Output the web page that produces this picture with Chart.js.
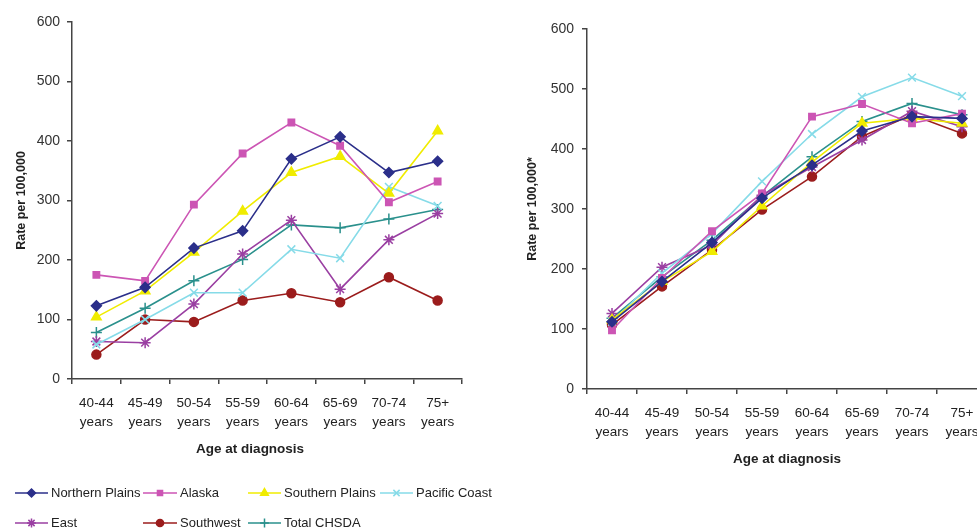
<!DOCTYPE html>
<html>
<head>
<meta charset="utf-8">
<script src="https://cdn.jsdelivr.net/npm/chart.js@4/dist/chart.umd.min.js"></script>
<style>
  html, body { margin: 0; padding: 0; background: #fff; width: 977px; height: 528px; overflow: hidden; }
  #left { position: absolute; left: 0; top: 0; width: 560px; height: 528px; }
  #right { position: absolute; left: 500px; top: 0; width: 500px; height: 528px; }
</style>
</head>
<body>
<div id="left"><canvas id="c1"></canvas></div>
<div id="right"><canvas id="c2"></canvas></div>
<script>
// ---- data ----
const categories = [['40-44','years'],['45-49','years'],['50-54','years'],['55-59','years'],['60-64','years'],['65-69','years'],['70-74','years'],['75+','years']];
const seriesNames = ['Northern Plains','Alaska','Southern Plains','Pacific Coast','East','Southwest','Total CHSDA'];
const yTicks = [0,100,200,300,400,500,600];

// Left panel
const northernPlainsA = [123,154,220,249,370,407,347,366];
const alaskaA         = [175,165,293,379,431,392,297,332];
const southernPlainsA = [104,148,213,282,347,374,312,417];
const pacificCoastA   = [58,100,145,145,218,203,323,291];
const eastA           = [63,61,126,210,267,151,234,278];
const southwestA      = [41,100,96,132,144,129,171,132];
const totalA          = [78,119,165,201,259,254,269,285];

// Right panel
const northernPlainsB = [112,179,244,318,373,430,454,451];
const alaskaB         = [98,185,263,326,454,475,443,459];
const southernPlainsB = [115,179,229,305,378,443,451,443];
const pacificCoastB   = [112,193,259,346,425,487,519,488];
const eastB           = [126,203,240,323,370,415,463,437];
const southwestB      = [107,171,232,299,354,421,457,426];
const totalB          = [118,187,248,321,387,446,476,457];

// ---- styles ----
const styles = [
  {color:'#2b2f8a', pointStyle:'rectRot', radius:5},
  {color:'#cc55b4', pointStyle:'rect', radius:4.5},
  {color:'#f0ec00', pointStyle:'triangle', radius:5.5},
  {color:'#86dbe8', pointStyle:'crossRot', radius:5.5},
  {color:'#9a3fa2', pointStyle:'star', radius:5.5},
  {color:'#9b1c1c', pointStyle:'circle', radius:4.5},
  {color:'#2a908c', pointStyle:'cross', radius:5.5}
];

function makeDatasets(arrs) {
  return arrs.map((d, i) => ({
    label: seriesNames[i],
    data: d,
    borderColor: styles[i].color,
    backgroundColor: styles[i].color,
    pointBackgroundColor: styles[i].color,
    pointBorderColor: styles[i].color,
    pointStyle: styles[i].pointStyle,
    pointRadius: styles[i].radius,
    pointBorderWidth: 1.5,
    borderWidth: 1.6,
    tension: 0,
    fill: false
  }));
}

const legendCols = [{x1:15,x2:48},{x1:143,x2:177},{x1:248,x2:281},{x1:380,x2:413}];
const legendRows = [493, 523];

const legendPlugin = {
  id: 'customLegend',
  afterDraw(chart) {
    const ctx = chart.ctx;
    ctx.save();
    chart.data.datasets.forEach((ds, i) => {
      const row = Math.floor(i / 4), col = i % 4;
      const c = legendCols[col], y = legendRows[row];
      ctx.strokeStyle = ds.borderColor;
      ctx.fillStyle = ds.borderColor;
      ctx.lineWidth = 1.5;
      ctx.beginPath(); ctx.moveTo(c.x1, y); ctx.lineTo(c.x2, y); ctx.stroke();
      const mx = (c.x1 + c.x2) / 2;
      if (Chart.helpers && Chart.helpers.drawPoint) {
        Chart.helpers.drawPoint(ctx, {pointStyle: ds.pointStyle, radius: ds.pointRadius * 0.8, borderWidth: 1.5, rotation: 0}, mx, y);
      }
      ctx.fillStyle = '#222';
      ctx.font = '13px "Liberation Sans", Arial, sans-serif';
      ctx.textBaseline = 'middle';
      ctx.textAlign = 'left';
      ctx.fillText(ds.label, c.x2 + 3, y);
    });
    ctx.restore();
  }
};

const FONT = '"Liberation Sans", Arial, Helvetica, sans-serif';
Chart.defaults.font.family = FONT;
Chart.defaults.color = '#333';

function makeOptions(cfg) {
  return {
    responsive: true,
    maintainAspectRatio: false,
    animation: false,
    layout: { padding: { left: 0, right: cfg.padRight, top: cfg.padTop, bottom: 0 } },
    plugins: { legend: { display: false }, tooltip: { enabled: false } },
    scales: {
      x: {
        type: 'category',
        offset: true,
        grid: { offset: true, drawOnChartArea: false, drawTicks: true, tickLength: 5, color: '#444', lineWidth: 1.5 },
        border: { display: true, color: '#444', width: 1.5 },
        ticks: { color: '#222', font: { size: 13.5, lineHeight: cfg.lineH }, padding: cfg.xPad, maxRotation: 0, autoSkip: false },
        title: { display: true, text: cfg.xTitle, color: '#222', font: { size: 13.5, weight: 'bold' }, padding: { top: 0, bottom: cfg.xTitlePad } },
        afterFit(scale) { scale.height = cfg.xHeight; }
      },
      y: {
        min: 0, max: 600,
        afterBuildTicks(scale) { scale.ticks = yTicks.map(v => ({ value: v })); },
        grid: { drawOnChartArea: false, drawTicks: true, tickLength: 5, color: '#444', lineWidth: 1.5 },
        border: { display: true, color: '#444', width: 1.5 },
        ticks: { color: '#333', font: { size: 14 }, padding: cfg.yPad },
        title: { display: true, text: cfg.yTitle, color: '#222', font: { size: 12.5, weight: 'bold' }, padding: { top: cfg.yTitlePad, bottom: 0 } },
        afterFit(scale) { scale.width = cfg.yWidth; }
      }
    }
  };
}

new Chart(document.getElementById('c1'), {
  type: 'line',
  data: { labels: categories, datasets: makeDatasets([northernPlainsA, alaskaA, southernPlainsA, pacificCoastA, eastA, southwestA, totalA]) },
  options: makeOptions({ padRight: 98, padTop: 22, lineH: 1.4, xPad: 10, xTitle: 'Age at diagnosis' + '\u00a0'.repeat(9), xTitlePad: 71, xHeight: 149, yPad: 7, yTitle: 'Rate per 100,000', yTitlePad: 14, yWidth: 72 }),
  plugins: [legendPlugin]
});

new Chart(document.getElementById('c2'), {
  type: 'line',
  data: { labels: categories, datasets: makeDatasets([northernPlainsB, alaskaB, southernPlainsB, pacificCoastB, eastB, southwestB, totalB]) },
  options: makeOptions({ padRight: 13, padTop: 29, lineH: 1.45, xPad: 9, xTitle: 'Age at diagnosis', xTitlePad: 61, xHeight: 139, yPad: 8, yTitle: 'Rate per 100,000*', yTitlePad: 25, yWidth: 87 })
});
</script>
</body>
</html>
